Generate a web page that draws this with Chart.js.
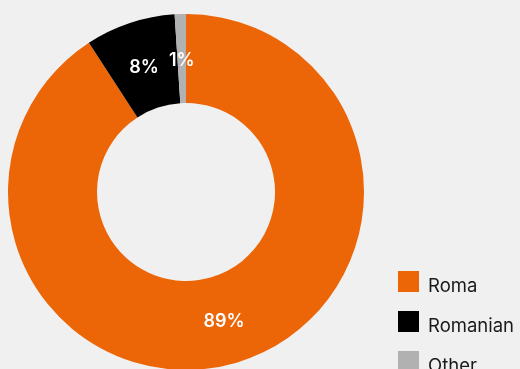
<!DOCTYPE html>
<html>
<head>
<meta charset="utf-8">
<script src="https://cdn.jsdelivr.net/npm/chart.js@4.4.1/dist/chart.umd.min.js"></script>
<style>
  html, body { margin: 0; padding: 0; background: #f0f0f0; overflow: hidden; }
  #wrap { position: relative; width: 520px; height: 400px; }
</style>
</head>
<body>
<div id="wrap"><canvas id="shareCanvas"></canvas></div>
<script>
// Share of respondents by group
const GROUPS = ['Roma', 'Romanian', 'Other'];
const SHARES = [89, 8, 1];
const COLORS = ['#ec6608', '#000000', '#b1b1b1'];

const FONT = 'Inter, "Noto Sans", sans-serif';

// percent labels in the middle of each ring segment
const sliceLabels = {
  id: 'sliceLabels',
  afterDatasetsDraw(chart) {
    const { ctx } = chart;
    const meta = chart.getDatasetMeta(0);
    ctx.save();
    ctx.fillStyle = '#ffffff';
    ctx.font = '600 18px ' + FONT;
    ctx.textAlign = 'center';
    ctx.textBaseline = 'middle';
    meta.data.forEach((arc, i) => {
      const p = arc.tooltipPosition();
      ctx.fillText(SHARES[i] + '%', p.x, p.y + 2);
    });
    ctx.restore();
  }
};

// square swatch legend, bottom right
const swatchLegend = {
  id: 'swatchLegend',
  afterDraw(chart) {
    const { ctx } = chart;
    ctx.save();
    ctx.font = '400 18.5px ' + FONT;
    ctx.textBaseline = 'alphabetic';
    ctx.textAlign = 'left';
    GROUPS.forEach((g, i) => {
      const y = 271 + i * 40;
      ctx.fillStyle = COLORS[i];
      ctx.fillRect(398, y, 21, 21);
      ctx.fillStyle = '#1a1a1a';
      ctx.fillText(g, 428, y + 21);
    });
    ctx.restore();
  }
};

new Chart(document.getElementById('shareCanvas').getContext('2d'), {
  type: 'doughnut',
  data: {
    labels: GROUPS,
    datasets: [{
      data: SHARES,
      backgroundColor: COLORS,
      borderWidth: 0,
      hoverOffset: 0,
    }],
  },
  options: {
    responsive: true,
    maintainAspectRatio: false,
    animation: false,
    cutout: '50%',
    layout: { padding: { left: 8, top: 14, right: 156, bottom: 30 } },
    plugins: {
      legend: { display: false },
      tooltip: { enabled: false },
    },
  },
  plugins: [sliceLabels, swatchLegend],
});
</script>
</body>
</html>
